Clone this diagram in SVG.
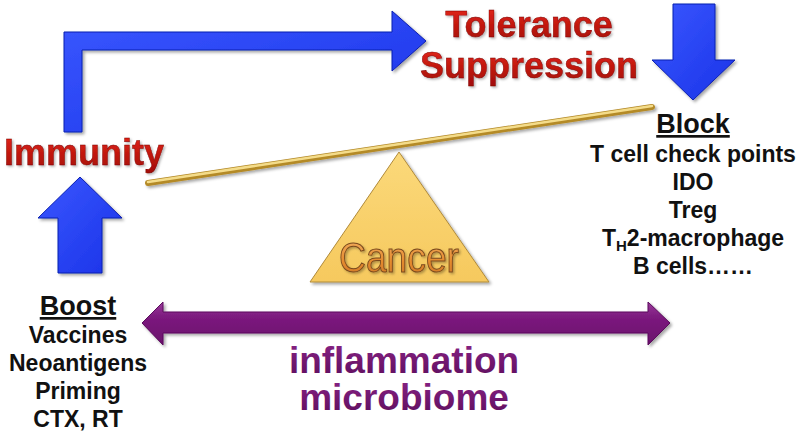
<svg xmlns="http://www.w3.org/2000/svg" width="800" height="435" viewBox="0 0 800 435">
<defs>
<style>
.red{font-family:"Liberation Sans",Arial,sans-serif;font-weight:bold;font-size:36px;fill:url(#redg);stroke:#7a0000;stroke-width:0.4;filter:url(#tsh)}
.pur{font-family:"Liberation Sans",Arial,sans-serif;font-weight:bold;font-size:37px;fill:url(#purg);text-anchor:middle}
.lst{font-family:"Liberation Sans",Arial,sans-serif;font-weight:bold;font-size:23px;fill:#111;text-anchor:middle}
.hd{font-family:"Liberation Sans",Arial,sans-serif;font-weight:bold;font-size:27px;fill:#111;text-anchor:middle;text-decoration:underline}
.blue{fill:url(#blueg);stroke:#0b1fb0;stroke-width:1;filter:url(#sh)}
.purple{fill:url(#purpg);stroke:#5a0c5c;stroke-width:1;filter:url(#sh)}
</style>
<linearGradient id="redg" x1="0" y1="0" x2="0" y2="1">
<stop offset="0" stop-color="#e8261a"/><stop offset="1" stop-color="#a00c06"/>
</linearGradient>
<linearGradient id="purg" x1="0" y1="0" x2="0" y2="1">
<stop offset="0" stop-color="#8a2386"/><stop offset="1" stop-color="#5c0d5c"/>
</linearGradient>
<linearGradient id="blueg" x1="0" y1="0" x2="1" y2="1">
<stop offset="0" stop-color="#3a58ff"/><stop offset="1" stop-color="#1a32e8"/>
</linearGradient>
<linearGradient id="purpg" x1="0" y1="0" x2="0" y2="1">
<stop offset="0" stop-color="#9a3a9a"/><stop offset="0.35" stop-color="#7c1a7e"/><stop offset="1" stop-color="#6a106c"/>
</linearGradient>
<linearGradient id="trig" x1="0" y1="0" x2="0" y2="1">
<stop offset="0" stop-color="#fbd97a"/><stop offset="1" stop-color="#f6c95e"/>
</linearGradient>
<linearGradient id="cang" x1="0" y1="0" x2="0" y2="1">
<stop offset="0" stop-color="#f4b56a"/><stop offset="0.6" stop-color="#e58a2e"/><stop offset="1" stop-color="#c9742a"/>
</linearGradient>
<filter id="sh" x="-10%" y="-10%" width="130%" height="130%">
<feDropShadow dx="2" dy="2" stdDeviation="1.5" flood-color="#000" flood-opacity="0.35"/>
</filter>
<filter id="tsh" x="-10%" y="-10%" width="130%" height="130%">
<feDropShadow dx="1.5" dy="1.5" stdDeviation="1" flood-color="#000" flood-opacity="0.3"/>
</filter>
</defs>
<rect width="800" height="435" fill="#ffffff"/>

<g id="connectors">
<path id="bent-arrow" class="blue" d="M64,132 L64,32 L392,32 L392,11 L426,41 L392,71 L392,50 L82,50 L82,132 Z"/>
<path id="down-arrow" class="blue" d="M673,4 L715,4 L715,60 L735,60 L693,100 L652,60 L673,60 Z"/>
<path id="up-arrow" class="blue" d="M80,177 L122,218 L102,218 L102,273 L58,273 L58,218 L38,218 Z"/>
<path id="double-arrow" class="purple" d="M142,323 L163,302 L163,312 L648,312 L648,302 L670,323 L648,345 L648,333 L163,333 L163,345 Z"/>
</g>

<g id="balance">
<g id="beam" filter="url(#sh)">
<line x1="148" y1="183" x2="652" y2="107" stroke="#b48a28" stroke-width="6" stroke-linecap="round"/>
<line x1="148" y1="182" x2="652" y2="106" stroke="#f4dc8a" stroke-width="2.5" stroke-linecap="round"/>
</g>
<g id="cancer">
<polygon points="399,152 489,282 310,282" fill="url(#trig)" stroke="#b08a3a" stroke-width="1" filter="url(#sh)"/>
<text x="399" y="272" text-anchor="middle" font-family="'Liberation Sans',Arial,sans-serif" font-size="43" textLength="120" lengthAdjust="spacingAndGlyphs" fill="url(#cang)" stroke="#7a4a1e" stroke-width="1" filter="url(#tsh)">Cancer</text>
</g>
</g>

<g id="immunity">
<text class="red" x="84" y="165" text-anchor="middle">Immunity</text>
</g>

<g id="tolerance">
<text class="red" x="529" y="37" text-anchor="middle">Tolerance</text>
<text class="red" x="529" y="78" text-anchor="middle">Suppression</text>
</g>

<g id="block">
<text class="hd" x="693" y="133">Block</text>
<text class="lst" x="693" y="162">T cell check points</text>
<text class="lst" x="693" y="190">IDO</text>
<text class="lst" x="693" y="218">Treg</text>
<text class="lst" x="693" y="246">T<tspan font-size="15" dy="5">H</tspan><tspan dy="-5">2-macrophage</tspan></text>
<text class="lst" x="693" y="274">B cells……</text>
</g>

<g id="boost">
<text class="hd" x="78" y="315">Boost</text>
<text class="lst" x="78" y="343">Vaccines</text>
<text class="lst" x="78" y="371">Neoantigens</text>
<text class="lst" x="78" y="399">Priming</text>
<text class="lst" x="78" y="427">CTX, RT</text>
</g>

<g id="inflammation">
<text class="pur" x="404" y="373">inflammation</text>
<text class="pur" x="404" y="410">microbiome</text>
</g>
</svg>
